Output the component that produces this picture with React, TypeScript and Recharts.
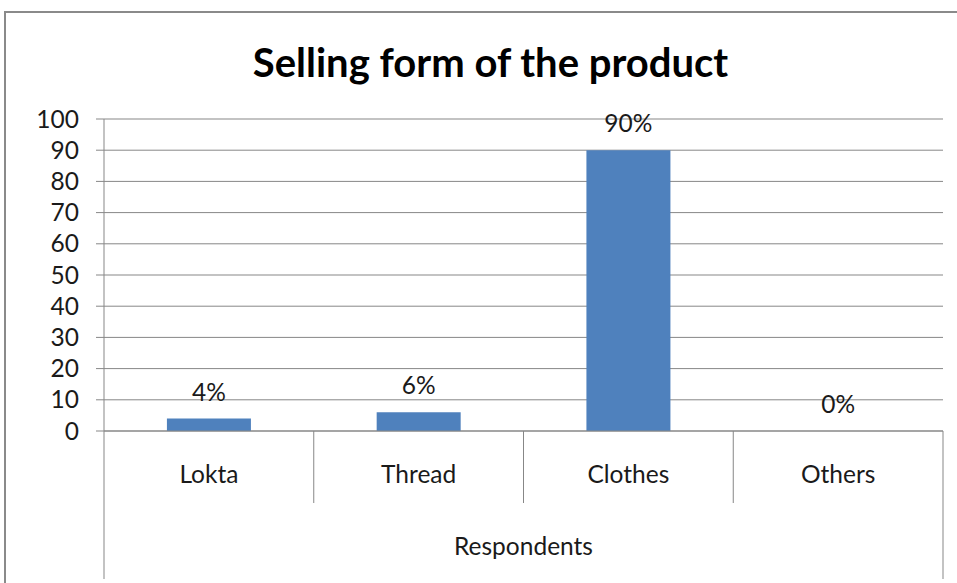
import {
  Bar,
  CartesianGrid,
  ComposedChart,
  Label,
  LabelList,
  Line,
  XAxis,
  YAxis
} from "recharts";

const categories = ["Lokta", "Thread", "Clothes", "Others"];
const shares = [4, 6, 90, 0];
const shareLabels = ["4%", "6%", "90%", "0%"];
const yTicks = [0, 10, 20, 30, 40, 50, 60, 70, 80, 90, 100];

const WIDTH = 957;
const HEIGHT = 583;
const Y_AXIS_W = 104;
const RIGHT = 14;
const PLOT_W = WIDTH - Y_AXIS_W - RIGHT;
const FONT = "Lato, 'Open Sans', sans-serif";
const FONT_SIZE = 24.5;
const GRID = "#878787";
const TEXT = "#1a1a1a";

const chartData = categories.map((name, i) => ({
  name,
  value: shares[i],
  label: shareLabels[i]
}));

function CategoryTick(props: any): JSX.Element {
  const { x, y, payload, index } = props;
  const band = PLOT_W / categories.length;
  const left = x - band / 2;
  const right = x + band / 2;
  const last = index === categories.length - 1;

  return (
    <g>
      <line
        x1={left}
        y1={y}
        x2={left}
        y2={y + (index === 0 ? 148 : 72)}
        stroke={GRID}
        strokeWidth={1}
      />
      {last && (
        <line x1={right} y1={y} x2={right} y2={y + 148} stroke={GRID} strokeWidth={1} />
      )}
      <text
        x={x}
        y={y + 42}
        textAnchor="middle"
        dominantBaseline="central"
        fontFamily={FONT}
        fontSize={FONT_SIZE}
        fill={TEXT}
      >
        {payload.value}
      </text>
    </g>
  );
}

export default function App(): JSX.Element {
  return (
    <div
      style={{
        position: "absolute",
        left: 0,
        top: 0,
        width: WIDTH,
        height: HEIGHT,
        overflow: "hidden",
        background: "#ffffff"
      }}
    >
      <div
        style={{
          position: "absolute",
          left: 4,
          top: 11,
          width: 980,
          height: 620,
          border: "2px solid #8a8a8a"
        }}
      />
      <div
        style={{
          position: "absolute",
          left: 12,
          top: 37,
          width: WIDTH,
          textAlign: "center",
          fontFamily: FONT,
          fontWeight: 700,
          fontSize: 40,
          lineHeight: "50px",
          color: "#000000"
        }}
      >
        Selling form of the product
      </div>
      <div style={{ position: "absolute", left: 0, top: 0 }}>
        <ComposedChart
          width={WIDTH}
          height={HEIGHT}
          data={chartData}
          margin={{ top: 119, right: RIGHT, bottom: 0, left: 0 }}
          barCategoryGap="30%"
        >
          <CartesianGrid vertical={false} stroke={GRID} strokeWidth={1} />
          <XAxis
            dataKey="name"
            height={152}
            axisLine={{ stroke: GRID }}
            tickLine={false}
            tickSize={0}
            tickMargin={0}
            interval={0}
            tick={<CategoryTick />}
          >
            <Label
              value="Respondents"
              position="insideBottom"
              offset={28}
              style={{ fontFamily: FONT, fontSize: FONT_SIZE, fill: TEXT }}
            />
          </XAxis>
          <YAxis
            width={Y_AXIS_W}
            domain={[0, 100]}
            ticks={yTicks}
            interval={0}
            axisLine={{ stroke: GRID }}
            tickLine={{ stroke: GRID }}
            tickSize={8}
            tickMargin={17}
            tick={{ fontFamily: FONT, fontSize: FONT_SIZE, fill: TEXT }}
          />
          <Bar dataKey="value" fill="#4f81bd" isAnimationActive={false} />
          <Line
            dataKey="value"
            stroke="none"
            dot={false}
            activeDot={false}
            legendType="none"
            isAnimationActive={false}
          >
            <LabelList
              dataKey="label"
              position="top"
              offset={18}
              style={{ fontFamily: FONT, fontSize: FONT_SIZE, fill: TEXT }}
            />
          </Line>
        </ComposedChart>
      </div>
    </div>
  );
}
